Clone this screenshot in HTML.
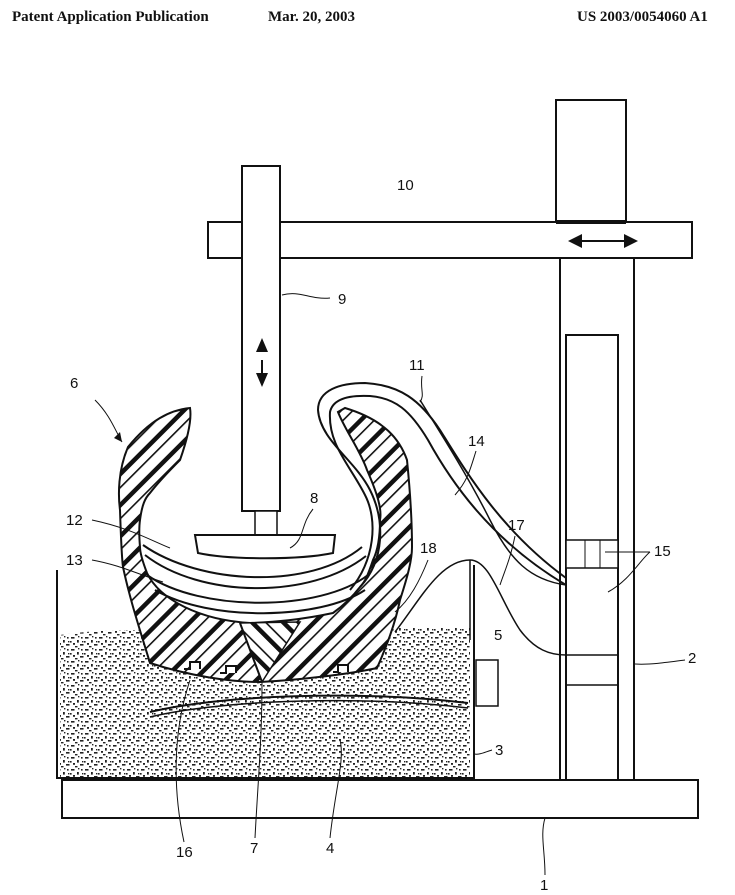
<!DOCTYPE html>
<html><head><style>
body{margin:0;background:#fff;}
svg{display:block}
text{font-family:"Liberation Sans",sans-serif;font-size:15px;fill:#111}
.h{font-family:"Liberation Serif",serif;font-weight:bold;font-size:15px}
</style></head><body>
<svg width="735" height="895" viewBox="0 0 735 895" xmlns="http://www.w3.org/2000/svg">
<defs>
<pattern id="hatch" patternUnits="userSpaceOnUse" width="22" height="22" patternTransform="rotate(45)">
<rect width="22" height="22" fill="#fff"/>
<rect x="0" y="0" width="4.5" height="22" fill="#111"/>
<rect x="11" y="0" width="1.6" height="22" fill="#111"/>
</pattern>
<pattern id="hatch2" patternUnits="userSpaceOnUse" width="22" height="22" patternTransform="rotate(-45)">
<rect width="22" height="22" fill="#fff"/>
<rect x="0" y="0" width="4.5" height="22" fill="#111"/>
<rect x="11" y="0" width="1.6" height="22" fill="#111"/>
</pattern>
<pattern id="sand" patternUnits="userSpaceOnUse" width="14" height="12">
<rect width="14" height="12" fill="#fff"/>
<rect x="1" y="1" width="3.5" height="1.6" fill="#222"/>
<rect x="7" y="4" width="1.8" height="2.6" fill="#222"/>
<rect x="10" y="8" width="3.5" height="1.6" fill="#222"/>
<rect x="3" y="7" width="2" height="1.8" fill="#222"/>
<rect x="11" y="1" width="1.6" height="1.6" fill="#222"/>
<rect x="5" y="10" width="2.5" height="1.4" fill="#222"/>
<rect x="0" y="5" width="1.6" height="1.6" fill="#222"/>
<rect x="8" y="0" width="1.4" height="1.4" fill="#222"/>
<rect x="12" y="5" width="1.4" height="1.4" fill="#222"/>
</pattern>
</defs>
<text class="h" x="12" y="21">Patent Application Publication</text>
<text class="h" x="268" y="21">Mar. 20, 2003</text>
<text class="h" x="577" y="21">US 2003/0054060 A1</text>

<rect x="556" y="100" width="70" height="122" fill="#fff" stroke="#111" stroke-width="2"/>
<line x1="560" y1="258" x2="560" y2="780" stroke="#111" stroke-width="2"/>
<line x1="634" y1="258" x2="634" y2="780" stroke="#111" stroke-width="2"/>
<rect x="566" y="335" width="52" height="445" fill="#fff" stroke="#111" stroke-width="2"/>
<rect x="566" y="540" width="52" height="28" fill="#fff" stroke="#111" stroke-width="1.5"/>
<line x1="585" y1="540" x2="585" y2="568" stroke="#111"/><line x1="600" y1="540" x2="600" y2="568" stroke="#111"/>
<line x1="566" y1="655" x2="618" y2="655" stroke="#111" stroke-width="1.5"/>
<line x1="566" y1="685" x2="618" y2="685" stroke="#111" stroke-width="1.5"/>

<rect x="208" y="222" width="484" height="36" fill="#fff" stroke="#111" stroke-width="2"/>
<line x1="556" y1="222" x2="626" y2="222" stroke="#111" stroke-width="4"/>
<path d="M580 241 H626" stroke="#111" stroke-width="2"/>
<path d="M638 241 l-14 -7 v14 z M568 241 l14 -7 v14 z" fill="#111"/>

<path d="M60 778 V635 C110 628 140 632 150 628 L470 628 V778 Z" fill="url(#sand)"/>
<path d="M57 570 V778 H474 V565" fill="none" stroke="#111" stroke-width="2"/>
<rect x="476" y="660" width="22" height="46" fill="#fff" stroke="#111" stroke-width="1.5"/>

<rect x="62" y="780" width="636" height="38" fill="#fff" stroke="#111" stroke-width="2"/>

<rect x="242" y="166" width="38" height="345" fill="#fff" stroke="#111" stroke-width="2"/>
<path d="M262 360 V380" stroke="#111" stroke-width="2"/>
<path d="M262 338 l-6 14 h12 z M262 387 l-6 -14 h12 z" fill="#111"/>
<rect x="255" y="511" width="22" height="24" fill="#fff" stroke="#111" stroke-width="1.5"/>

<path d="M190 408 C170 410 150 420 128 447 C118 470 118 495 120 510 C121 540 122 560 123 567 C130 600 140 630 150 663 C190 676 230 682 260 682 C300 680 350 674 377 668 C385 650 395 625 400 600 C408 575 412 560 412 547 C412 520 410 490 407 460 C400 440 385 420 345 408 L338 412 C345 430 360 450 367 470 C378 495 382 510 380 520 C380 540 377 552 373 560 C368 575 365 582 360 587 C350 600 340 608 333 613 C300 620 275 622 250 623 C200 620 160 600 147 573 C142 560 140 553 140 547 C139 535 139 527 140 520 C142 505 145 498 150 493 C160 480 170 470 180 460 C187 440 192 420 190 408 Z" fill="url(#hatch)" stroke="#111" stroke-width="2"/>
<path d="M240 623 L300 622 L262 682 Z" fill="url(#hatch2)" stroke="#111" stroke-width="1.5"/>
<path d="M240 623 L262 682" stroke="#111" stroke-width="2"/>
<path d="M143 545 C200 585 310 590 362 547" fill="none" stroke="#111" stroke-width="2"/>
<path d="M145 555 C200 598 310 600 366 556" fill="none" stroke="#111" stroke-width="2"/>
<path d="M147 575 C200 612 320 612 368 575" fill="none" stroke="#111" stroke-width="2"/>
<path d="M155 590 C210 622 320 620 365 590" fill="none" stroke="#111" stroke-width="2"/>
<path d="M360 587 C385 560 385 520 370 490 C355 460 320 440 318 410 C318 390 340 383 365 383 C400 385 420 400 440 430 C465 470 500 530 566 578" fill="none" stroke="#111" stroke-width="2"/>
<path d="M350 590 C375 560 378 520 365 495 C350 465 328 445 330 412 C333 398 350 395 370 396 C395 398 410 410 428 440 C450 480 490 540 566 585" fill="none" stroke="#111" stroke-width="2"/>
<path d="M420 400 C445 440 470 480 490 520 C510 560 530 580 566 585" fill="none" stroke="#111" stroke-width="1.5"/>
<path d="M395 632 C420 600 440 560 470 560 C490 560 500 600 520 630 C535 650 550 655 566 655" fill="none" stroke="#111" stroke-width="1.5"/>
<path d="M470 560 V640" stroke="#111" stroke-width="1.5"/>
<path d="M150 712 C220 695 360 690 468 703" fill="none" stroke="#111" stroke-width="2"/>
<path d="M150 717 C220 700 360 695 468 708" fill="none" stroke="#111" stroke-width="1.5"/>
<path d="M184 669 h6 v-7 h10 v7 M220 673 h6 v-7 h10 v7 M333 672 h5 v-7 h10 v7" fill="#fff" stroke="#111" stroke-width="2"/>
<path d="M195 535 H335 L333 553 C300 560 230 560 198 553 Z" fill="#fff" stroke="#111" stroke-width="2"/>

<text x="397" y="190">10</text>
<text x="338" y="304">9</text>
<path d="M282 295 C300 290 310 300 330 298" fill="none" stroke="#111"/>
<text x="409" y="370">11</text>
<path d="M422 376 C420 390 425 395 420 402" fill="none" stroke="#111"/>
<text x="70" y="388">6</text>
<path d="M95 400 C110 415 115 430 122 442" fill="none" stroke="#111"/>
<path d="M122 442 l-8 -4 l6 -6 z" fill="#111"/>
<text x="310" y="503">8</text>
<path d="M313 509 C300 525 305 540 290 548" fill="none" stroke="#111"/>
<text x="468" y="446">14</text>
<path d="M476 451 C470 470 468 480 455 495" fill="none" stroke="#111"/>
<text x="66" y="525">12</text>
<path d="M92 520 C130 528 150 540 170 548" fill="none" stroke="#111"/>
<text x="66" y="565">13</text>
<path d="M92 560 C120 565 140 575 163 582" fill="none" stroke="#111"/>
<text x="508" y="530">17</text>
<path d="M515 536 C510 560 505 570 500 585" fill="none" stroke="#111"/>
<text x="420" y="553">18</text>
<path d="M428 560 C420 580 410 600 395 612" fill="none" stroke="#111"/>
<text x="654" y="556">15</text>
<path d="M650 552 H605 M650 552 C640 560 630 580 608 592" fill="none" stroke="#111"/>
<text x="494" y="640">5</text>
<text x="688" y="663">2</text>
<path d="M685 660 C670 662 650 665 635 664" fill="none" stroke="#111"/>
<text x="495" y="755">3</text>
<path d="M492 750 C485 752 480 755 474 754" fill="none" stroke="#111"/>
<text x="176" y="857">16</text>
<path d="M184 842 C175 800 170 740 190 680" fill="none" stroke="#111"/>
<text x="250" y="853">7</text>
<path d="M255 838 C258 780 262 740 262 682" fill="none" stroke="#111"/>
<text x="326" y="853">4</text>
<path d="M330 838 C335 790 345 760 340 740" fill="none" stroke="#111"/>
<text x="540" y="890">1</text>
<path d="M545 875 C545 850 540 835 545 818" fill="none" stroke="#111"/>
</svg>
</body></html>
